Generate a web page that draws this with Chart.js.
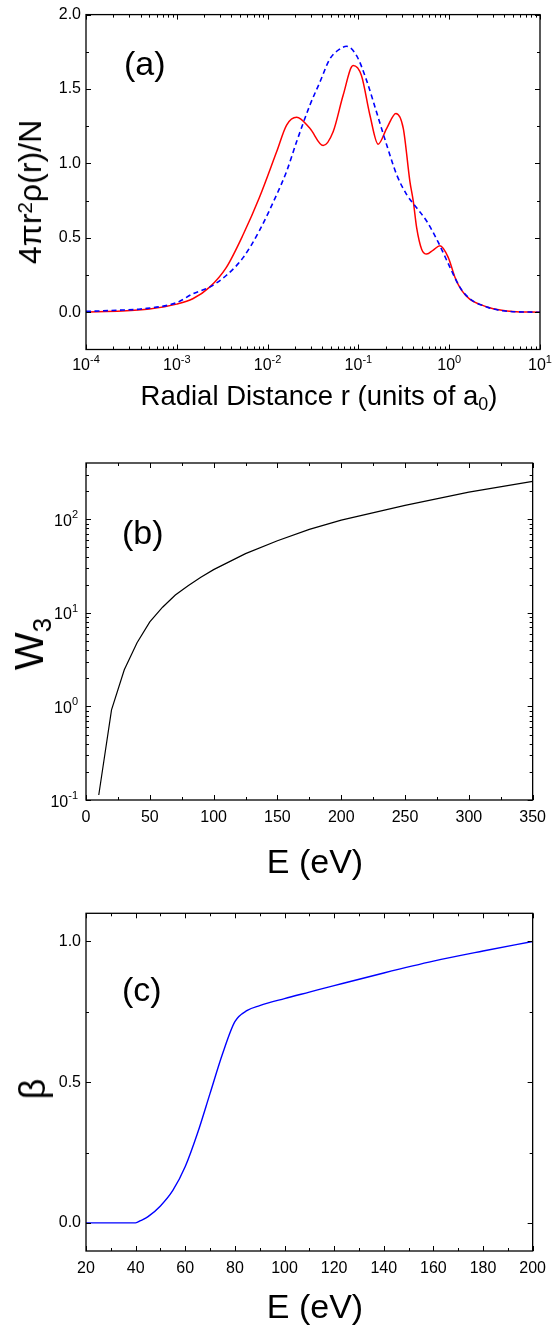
<!DOCTYPE html>
<html>
<head>
<meta charset="utf-8">
<script src="https://cdn.jsdelivr.net/npm/chart.js@4.4.1/dist/chart.umd.min.js"></script>
<style>
    html, body { margin: 0; padding: 0; background: #fff; }
    #fig { position: relative; width: 554px; height: 1326px; overflow: hidden;
           font-family: 'Liberation Sans', Arial, sans-serif; color: #000; }
    #fig canvas { position: absolute; left: 0; }
    .t { position: absolute; white-space: nowrap; line-height: 1; }
    .c { width: 554px; text-align: center; }
    .rot { transform: translate(-50%, -50%) rotate(-90deg); }
    .sup { font-size: 0.65em; position: relative; top: -0.45em; }
    .sub { font-size: 0.65em; position: relative; top: 0.3em; }
</style>
</head>
<body>
<div id="fig">
    <canvas id="chartA" width="554" height="420" style="top:0"></canvas>
    <canvas id="chartB" width="554" height="440" style="top:420px"></canvas>
    <canvas id="chartC" width="554" height="466" style="top:860px"></canvas>

    <div class="t" style="left:124px;top:46px;font-size:34px">(a)</div>
    <div class="t" style="left:122px;top:515px;font-size:34px">(b)</div>
    <div class="t" style="left:122px;top:972px;font-size:34px">(c)</div>

    <div class="t c" style="left:42px;top:382px;font-size:27.5px">Radial Distance r (units of a<span class="sub">0</span>)</div>
    <div class="t c" style="left:38px;top:844px;font-size:34px">E (eV)</div>
    <div class="t c" style="left:38px;top:1289px;font-size:34px">E (eV)</div>

    <div class="t rot" style="left:30px;top:192px;font-size:32px">4πr<span class="sup">2</span>ρ(r)/N</div>
    <div class="t rot" style="left:29px;top:644px;font-size:40px">W<span class="sub">3</span></div>
    <div class="t rot" style="left:33px;top:1089px;font-size:36px">β</div>
</div>

<script>
// (a) radial density, solid red and dashed blue
const rRed = [0.0001, 0.00025, 0.0005, 0.001, 0.0015, 0.0023, 0.0035, 0.0054, 0.0081, 0.0126,
    0.0162, 0.0209, 0.0292, 0.0409, 0.0527, 0.0679, 0.0875, 0.108, 0.134, 0.165,
    0.205, 0.259, 0.312, 0.369, 0.402, 0.438, 0.497, 0.564, 0.667, 0.791,
    0.975, 1.156, 1.371, 1.694, 2.18, 3.05, 5.0, 10];
const rhoRed = [0.002, 0.008, 0.022, 0.055, 0.091, 0.169, 0.30, 0.524, 0.769, 1.08,
    1.258, 1.31, 1.236, 1.12, 1.213, 1.458, 1.658, 1.591, 1.324, 1.129,
    1.236, 1.336, 1.236, 0.88, 0.747, 0.569, 0.424, 0.391, 0.418, 0.447,
    0.369, 0.236, 0.147, 0.087, 0.053, 0.024, 0.006, 0.001];
const rBlue = [0.0001, 0.00025, 0.0004, 0.001, 0.0015, 0.0023, 0.0035, 0.0054, 0.0081, 0.0126,
    0.0162, 0.0209, 0.0292, 0.0377, 0.0485, 0.0625, 0.0741, 0.0955, 0.123, 0.158,
    0.205, 0.264, 0.34, 0.438, 0.564, 0.759, 1.02, 1.31, 1.69, 2.59, 3.9, 10];
const rhoBlue = [0.006, 0.015, 0.022, 0.065, 0.124, 0.169, 0.247, 0.369, 0.547, 0.791,
    0.947, 1.147, 1.391, 1.547, 1.702, 1.769, 1.787, 1.724, 1.558, 1.347,
    1.124, 0.924, 0.791, 0.702, 0.613, 0.469, 0.302, 0.169, 0.091, 0.036, 0.01, 0.0];
const xTicksA = [1e-4, 1e-3, 1e-2, 1e-1, 1, 10];
const yTicksA = [0, 0.5, 1.0, 1.5, 2.0];
const yMinorA = [0.25, 0.75, 1.25, 1.75];

// (b) W3 against energy
const energyW3 = [10, 20, 30, 40, 50, 60, 70, 80, 90, 100, 125, 150, 175, 200, 250, 300, 350];
const w3 = [0.113, 0.92, 2.47, 4.8, 8.0, 11.5, 15.5, 19.5, 24, 29, 43, 59, 78, 98, 141, 195, 254];
const xTicksB = [0, 50, 100, 150, 200, 250, 300, 350];
const xMinorB = [25, 75, 125, 175, 225, 275, 325];
const yTicksB = [0.1, 1, 10, 100];

// (c) beta against energy
const energyBeta = [20, 30, 40, 42, 45, 50, 55, 60, 65, 70, 75, 80, 85, 90, 100, 110, 120, 140, 160, 180, 200];
const beta = [0, 0, 0, 0.008, 0.022, 0.06, 0.115, 0.2, 0.32, 0.46, 0.6, 0.715, 0.755, 0.772, 0.797, 0.82, 0.843, 0.888, 0.93, 0.966, 1.0];
const xTicksC = [20, 40, 60, 80, 100, 120, 140, 160, 180, 200];
const xMinorC = [30, 50, 70, 90, 110, 130, 150, 170, 190];
const yTicksC = [0, 0.5, 1.0];
const yMinorC = [0.25, 0.75];

const FONT = "'Liberation Sans', Arial, sans-serif";
Chart.defaults.font.family = FONT;
Chart.defaults.font.size = 16;
Chart.defaults.color = '#000';

// minor ticks of a log axis: 2..9 in every decade
function logMinor(lo, hi) {
    const out = [];
    for (let d = lo; d < hi; d *= 10) {
        for (let k = 2; k <= 9; k++) out.push(d * k);
    }
    return out;
}

function pts(xs, ys) {
    return xs.map((x, i) => ({ x: x, y: ys[i] }));
}

// "10" with a raised exponent
function powLabel(ctx, v, x, y, align) {
    const e = String(Math.round(Math.log10(v)));
    ctx.font = '16px ' + FONT;
    const wb = ctx.measureText('10').width;
    ctx.font = '11px ' + FONT;
    const we = ctx.measureText(e).width;
    const x0 = align === 'center' ? x - (wb + we) / 2 : x - wb - we;
    ctx.font = '16px ' + FONT;
    ctx.fillText('10', x0, y);
    ctx.font = '11px ' + FONT;
    ctx.fillText(e, x0 + wb, y - 7.5);
}

// box round the plot, inward ticks on all sides, power labels
const frameTicks = {
    id: 'frameTicks',
    afterDatasetsDraw(chart, args, o) {
        const { ctx, chartArea: a } = chart;
        const xs = chart.scales.x, ys = chart.scales.y;
        ctx.save();
        ctx.strokeStyle = '#000';
        ctx.lineWidth = 1;
        const xt = (vals, len) => vals.forEach(v => {
            const p = Math.round(xs.getPixelForValue(v)) + 0.5;
            ctx.beginPath();
            ctx.moveTo(p, a.bottom); ctx.lineTo(p, a.bottom - len);
            ctx.moveTo(p, a.top); ctx.lineTo(p, a.top + len);
            ctx.stroke();
        });
        const yt = (vals, len) => vals.forEach(v => {
            const p = Math.round(ys.getPixelForValue(v)) + 0.5;
            ctx.beginPath();
            ctx.moveTo(a.left, p); ctx.lineTo(a.left + len, p);
            ctx.moveTo(a.right, p); ctx.lineTo(a.right - len, p);
            ctx.stroke();
        });
        xt(o.xMajor, 5); xt(o.xMinor, 3);
        yt(o.yMajor, 5); yt(o.yMinor, 3);
        ctx.lineWidth = 1.3;
        ctx.strokeRect(a.left, a.top, a.right - a.left, a.bottom - a.top);

        ctx.fillStyle = '#000';
        ctx.textAlign = 'left';
        ctx.textBaseline = 'alphabetic';
        if (o.xPow) o.xMajor.forEach(v => powLabel(ctx, v, xs.getPixelForValue(v), a.bottom + 20.5, 'center'));
        if (o.yPow) o.yMajor.forEach(v => powLabel(ctx, v, a.left - 8, ys.getPixelForValue(v) + 6.5, 'right'));
        ctx.restore();
    }
};

function baseOptions(pad) {
    return {
        responsive: false,
        animation: false,
        layout: { padding: { left: 0, right: 14, top: pad, bottom: 0 } },
        elements: { point: { radius: 0 } }
    };
}

// Panel (a)
new Chart(document.getElementById('chartA'), {
    type: 'line',
    data: {
        datasets: [
            { data: pts(rRed, rhoRed), borderColor: '#ff0000', borderWidth: 1.5,
              cubicInterpolationMode: 'monotone', order: 2 },
            { data: pts(rBlue, rhoBlue), borderColor: '#0000ff', borderWidth: 1.6,
              borderDash: [5, 3.5], cubicInterpolationMode: 'monotone', order: 1 }
        ]
    },
    options: Object.assign(baseOptions(12), {
        scales: {
            x: {
                type: 'logarithmic', min: 1e-4, max: 10,
                grid: { display: false }, border: { display: false },
                ticks: { display: false },
                afterFit: s => { s.height = 70.5; }
            },
            y: {
                min: -0.25, max: 2.0,
                grid: { display: false, drawTicks: false }, border: { display: false },
                afterBuildTicks: s => { s.ticks = yTicksA.map(v => ({ value: v })); },
                ticks: { padding: 5, callback: v => v.toFixed(1) },
                afterFit: s => { s.width = 86; }
            }
        },
        plugins: {
            legend: { display: false }, tooltip: { enabled: false },
            frameTicks: { xMajor: xTicksA, xMinor: logMinor(1e-4, 10), yMajor: yTicksA, yMinor: yMinorA, xPow: true }
        }
    }),
    plugins: [frameTicks]
});

// Panel (b)
new Chart(document.getElementById('chartB'), {
    type: 'line',
    data: {
        datasets: [
            { data: pts(energyW3, w3), borderColor: '#000', borderWidth: 1.2, tension: 0 }
        ]
    },
    options: Object.assign(baseOptions(43), {
        scales: {
            x: {
                type: 'linear', min: 0, max: 350,
                grid: { display: false, drawTicks: false }, border: { display: false },
                afterBuildTicks: s => { s.ticks = xTicksB.map(v => ({ value: v })); },
                ticks: { padding: 8, maxRotation: 0 },
                afterFit: s => { s.height = 60; }
            },
            y: {
                type: 'logarithmic', min: 0.1, max: 400,
                grid: { display: false }, border: { display: false },
                ticks: { display: false },
                afterFit: s => { s.width = 86; }
            }
        },
        plugins: {
            legend: { display: false }, tooltip: { enabled: false },
            frameTicks: { xMajor: xTicksB, xMinor: xMinorB, yMajor: yTicksB, yMinor: logMinor(0.1, 1000).filter(v => v < 400), yPow: true }
        }
    }),
    plugins: [frameTicks]
});

// Panel (c)
new Chart(document.getElementById('chartC'), {
    type: 'line',
    data: {
        datasets: [
            { data: pts(energyBeta, beta), borderColor: '#0000ff', borderWidth: 1.4,
              cubicInterpolationMode: 'monotone' }
        ]
    },
    options: Object.assign(baseOptions(53.3), {
        scales: {
            x: {
                type: 'linear', min: 20, max: 200,
                grid: { display: false, drawTicks: false }, border: { display: false },
                afterBuildTicks: s => { s.ticks = xTicksC.map(v => ({ value: v })); },
                ticks: { padding: 8, maxRotation: 0 },
                afterFit: s => { s.height = 75; }
            },
            y: {
                min: -0.1, max: 1.1,
                grid: { display: false, drawTicks: false }, border: { display: false },
                afterBuildTicks: s => { s.ticks = yTicksC.map(v => ({ value: v })); },
                ticks: { padding: 5, callback: v => v.toFixed(1) },
                afterFit: s => { s.width = 86; }
            }
        },
        plugins: {
            legend: { display: false }, tooltip: { enabled: false },
            frameTicks: { xMajor: xTicksC, xMinor: xMinorC, yMajor: yTicksC, yMinor: yMinorC }
        }
    }),
    plugins: [frameTicks]
});
</script>
</body>
</html>
